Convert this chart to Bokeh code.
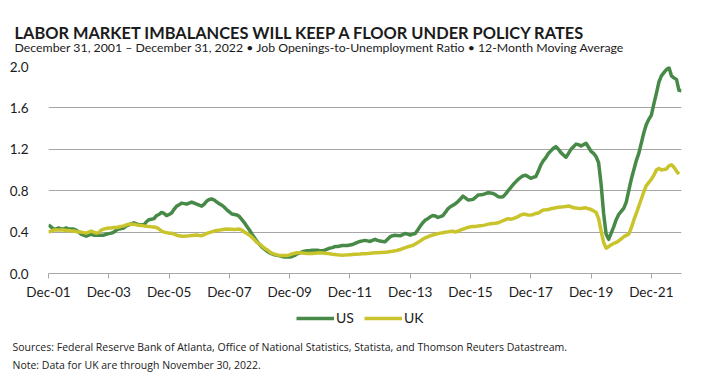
from bokeh.plotting import figure
from bokeh.layouts import column
from bokeh.models import Range1d, FixedTicker, Label, Legend, LegendItem
from bokeh.embed import file_html
from bokeh.resources import INLINE

# Job openings-to-unemployment ratio, 12-month moving average, monthly from Dec-01
us_ratio = [
    0.47,
    0.45, 0.43, 0.43, 0.44, 0.43, 0.43, 0.44, 0.43, 0.43, 0.43, 0.42, 0.40,
    0.38, 0.37, 0.36, 0.37, 0.38, 0.37, 0.37, 0.37, 0.37, 0.37, 0.38, 0.385,
    0.39, 0.40, 0.42, 0.43, 0.435, 0.44, 0.46, 0.47, 0.48, 0.49, 0.48, 0.47,
    0.47, 0.47, 0.50, 0.52, 0.525, 0.53, 0.56, 0.57, 0.59, 0.58, 0.56, 0.57,
    0.585, 0.62, 0.65, 0.665, 0.68, 0.675, 0.67, 0.68, 0.69, 0.68, 0.67, 0.66,
    0.65, 0.67, 0.70, 0.715, 0.72, 0.71, 0.69, 0.675, 0.66, 0.64, 0.615, 0.595,
    0.575, 0.57, 0.565, 0.55, 0.52, 0.49, 0.455, 0.42, 0.38, 0.345, 0.31, 0.28,
    0.255, 0.235, 0.215, 0.20, 0.19, 0.18, 0.175, 0.17, 0.165, 0.16, 0.16, 0.16,
    0.165, 0.175, 0.19, 0.20, 0.21, 0.215, 0.22, 0.22, 0.225, 0.225, 0.225, 0.22,
    0.22, 0.225, 0.235, 0.245, 0.25, 0.26, 0.26, 0.265, 0.27, 0.27, 0.27, 0.275,
    0.28, 0.29, 0.30, 0.31, 0.315, 0.32, 0.315, 0.31, 0.32, 0.33, 0.32, 0.313,
    0.31, 0.306, 0.33, 0.355, 0.365, 0.37, 0.366, 0.364, 0.375, 0.387, 0.38, 0.371,
    0.38, 0.387, 0.42, 0.458, 0.49, 0.516, 0.53, 0.548, 0.56, 0.555, 0.542, 0.55,
    0.56, 0.59, 0.625, 0.645, 0.66, 0.675, 0.695, 0.72, 0.748, 0.73, 0.71, 0.712,
    0.716, 0.735, 0.758, 0.76, 0.764, 0.772, 0.78, 0.777, 0.774, 0.76, 0.742, 0.74,
    0.742, 0.77, 0.80, 0.83, 0.86, 0.885, 0.91, 0.93, 0.945, 0.95, 0.935, 0.92,
    0.93, 0.936, 0.99, 1.05, 1.09, 1.12, 1.16, 1.185, 1.21, 1.226, 1.20, 1.168,
    1.145, 1.123, 1.16, 1.20, 1.225, 1.25, 1.245, 1.232, 1.245, 1.258, 1.22, 1.18,
    1.16, 1.13, 1.07, 0.86, 0.58, 0.38, 0.33, 0.39, 0.45, 0.52, 0.57, 0.60,
    0.63, 0.69, 0.80, 0.91, 1.00, 1.09, 1.16, 1.26, 1.36, 1.44, 1.49, 1.53,
    1.64, 1.74, 1.85, 1.91, 1.94, 1.97, 1.99, 1.91, 1.89, 1.875, 1.77, 1.765,
]

uk_ratio = [
    0.40,
    0.41, 0.42, 0.42, 0.42, 0.42, 0.42, 0.415, 0.415, 0.41, 0.41, 0.405, 0.40,
    0.40, 0.395, 0.39, 0.40, 0.41, 0.40, 0.39, 0.395, 0.42, 0.43, 0.435, 0.44,
    0.44, 0.445, 0.445, 0.45, 0.455, 0.46, 0.47, 0.477, 0.477, 0.477, 0.47, 0.465,
    0.464, 0.46, 0.457, 0.455, 0.452, 0.45, 0.445, 0.43, 0.41, 0.40, 0.395, 0.39,
    0.39, 0.38, 0.37, 0.365, 0.36, 0.36, 0.362, 0.364, 0.367, 0.37, 0.371, 0.368,
    0.365, 0.375, 0.387, 0.395, 0.403, 0.41, 0.415, 0.419, 0.423, 0.427, 0.429, 0.428,
    0.427, 0.426, 0.428, 0.429, 0.42, 0.40, 0.387, 0.37, 0.35, 0.325, 0.30, 0.285,
    0.265, 0.245, 0.23, 0.21, 0.195, 0.187, 0.18, 0.175, 0.174, 0.174, 0.174, 0.18,
    0.19, 0.196, 0.20, 0.20, 0.198, 0.195, 0.194, 0.194, 0.194, 0.196, 0.198, 0.20,
    0.198, 0.196, 0.194, 0.19, 0.186, 0.184, 0.18, 0.178, 0.177, 0.178, 0.18, 0.182,
    0.184, 0.186, 0.187, 0.188, 0.19, 0.19, 0.192, 0.195, 0.198, 0.20, 0.20, 0.202,
    0.204, 0.206, 0.208, 0.212, 0.215, 0.219, 0.225, 0.232, 0.24, 0.25, 0.258, 0.265,
    0.27, 0.285, 0.30, 0.315, 0.33, 0.345, 0.355, 0.365, 0.372, 0.378, 0.385, 0.39,
    0.394, 0.398, 0.402, 0.406, 0.409, 0.40, 0.41, 0.42, 0.428, 0.437, 0.445, 0.451,
    0.453, 0.455, 0.458, 0.462, 0.465, 0.47, 0.477, 0.48, 0.483, 0.486, 0.49, 0.50,
    0.51, 0.52, 0.53, 0.525, 0.53, 0.54, 0.55, 0.565, 0.574, 0.57, 0.565, 0.564,
    0.57, 0.58, 0.585, 0.60, 0.613, 0.615, 0.619, 0.625, 0.63, 0.635, 0.64, 0.643,
    0.645, 0.648, 0.652, 0.645, 0.635, 0.632, 0.63, 0.629, 0.632, 0.635, 0.625, 0.619,
    0.605, 0.59, 0.53, 0.41, 0.30, 0.245, 0.26, 0.278, 0.29, 0.30, 0.315, 0.335,
    0.355, 0.368, 0.38, 0.44, 0.515, 0.58, 0.65, 0.72, 0.79, 0.85, 0.88, 0.91,
    0.95, 1.00, 1.016, 1.00, 1.005, 1.01, 1.04, 1.05, 1.026, 0.99, 0.96,
]

series_names = ["US", "UK"]
x_tick_labels = ["Dec-01", "Dec-03", "Dec-05", "Dec-07", "Dec-09", "Dec-11",
                 "Dec-13", "Dec-15", "Dec-17", "Dec-19", "Dec-21"]
y_ticks = [0.0, 0.4, 0.8, 1.2, 1.6, 2.0]
y_tick_labels = ["0.0", "0.4", "0.8", "1.2", "1.6", "2.0"]

title_text = "LABOR MARKET IMBALANCES WILL KEEP A FLOOR UNDER POLICY RATES"
subtitle_text = ("December 31, 2001 \u2013 December 31, 2022 \u2022 Job Openings-to-Unemployment Ratio "
                 "\u2022 12-Month Moving Average")
sources_text = ("Sources: Federal Reserve Bank of Atlanta, Office of National Statistics, Statista, "
                "and Thomson Reuters Datastream.")
note_text = "Note: Data for UK are through November 30, 2022."

GREEN = "#478a48"
YELLOW = "#c9c42c"
GRID = "#a6a6a6"
TEXT = "#1b1b1b"
W = 701
HEAD_H, MAIN_H, FOOT_H = 56, 249, 72


def blank(height):
    f = figure(width=W, height=height, output_backend="svg", toolbar_location=None,
               x_range=Range1d(0, W), y_range=Range1d(height, 0),
               x_axis_type=None, y_axis_type=None, frame_align=False,
               min_border_left=0, min_border_right=0, min_border_top=0, min_border_bottom=0)
    f.outline_line_color = None
    f.grid.visible = False
    f.background_fill_color = "white"
    f.border_fill_color = "white"
    return f


# ---- header ----
head = blank(HEAD_H)
head.add_layout(Label(x=14, y=31.5, text=title_text, text_font="Lato", text_font_style="bold",
                      text_font_size="16.4px", text_color=TEXT, text_baseline="alphabetic"))
head.add_layout(Label(x=14, y=47, text=subtitle_text, text_font="Lato",
                      text_font_size="12.3px", text_color=TEXT, text_baseline="alphabetic"))

# ---- main chart ----
months_us = list(range(len(us_ratio)))
months_uk = list(range(len(uk_ratio)))
x_ticks = [i * 24 for i in range(len(x_tick_labels))]

p = figure(width=W, height=MAIN_H, output_backend="svg", toolbar_location=None,
           x_range=Range1d(0, len(us_ratio) - 1), y_range=Range1d(0, 2.0),
           min_border_left=48, min_border_right=20, min_border_top=10, min_border_bottom=32)
p.outline_line_color = None
p.background_fill_color = "white"
p.border_fill_color = "white"

p.line(months_us, us_ratio, line_color=GREEN, line_width=3.5, line_join="round")
p.line(months_uk, uk_ratio, line_color=YELLOW, line_width=3.5, line_join="round")

p.xaxis.ticker = FixedTicker(ticks=x_ticks)
p.xaxis.major_label_overrides = {t: l for t, l in zip(x_ticks, x_tick_labels)}
p.xaxis.axis_line_color = GRID
p.xaxis.major_tick_line_color = GRID
p.xaxis.major_tick_out = 5
p.xaxis.major_tick_in = 0
p.xaxis.minor_tick_line_color = None
p.xaxis.major_label_standoff = 5
p.xaxis.major_label_text_font = "Lato"
p.xaxis.major_label_text_font_size = "13.5px"
p.xaxis.major_label_text_color = TEXT

p.yaxis.ticker = FixedTicker(ticks=y_ticks)
p.yaxis.major_label_overrides = {t: l for t, l in zip(y_ticks, y_tick_labels)}
p.yaxis.axis_line_color = None
p.yaxis.major_tick_line_color = None
p.yaxis.minor_tick_line_color = None
p.yaxis.major_label_standoff = 14
p.yaxis.major_label_text_font = "Lato"
p.yaxis.major_label_text_font_size = "13.5px"
p.yaxis.major_label_text_color = TEXT

p.xgrid.grid_line_color = None
p.ygrid.ticker = FixedTicker(ticks=y_ticks)
p.ygrid.grid_line_color = GRID
p.ygrid.grid_line_width = 1

# ---- footer: legend key + sources ----
foot = blank(FOOT_H)
key_us = foot.line(months_us, us_ratio, line_color=GREEN, line_width=3.5, visible=False)
key_uk = foot.line(months_uk, uk_ratio, line_color=YELLOW, line_width=3.5, visible=False)
legend = Legend(items=[LegendItem(label=series_names[0], renderers=[key_us]),
                       LegendItem(label=series_names[1], renderers=[key_uk])],
                orientation="horizontal", location=(296, FOOT_H - 21),
                glyph_width=38, glyph_height=14, label_height=14, label_width=10,
                label_standoff=2, spacing=10, padding=0, margin=0,
                border_line_color=None, background_fill_alpha=0, inactive_fill_alpha=0,
                label_text_font="Lato", label_text_font_size="14px",
                label_text_color=TEXT)
foot.add_layout(legend)
foot.add_layout(Label(x=12, y=41.5, text=sources_text, text_font="Open Sans",
                      text_font_size="10.5px", text_color=TEXT, text_baseline="alphabetic"))
foot.add_layout(Label(x=12, y=59.5, text=note_text, text_font="Open Sans",
                      text_font_size="10.5px", text_color=TEXT, text_baseline="alphabetic"))

layout = column(head, p, foot, spacing=0)
open("out.html", "w").write(file_html(layout, INLINE))
